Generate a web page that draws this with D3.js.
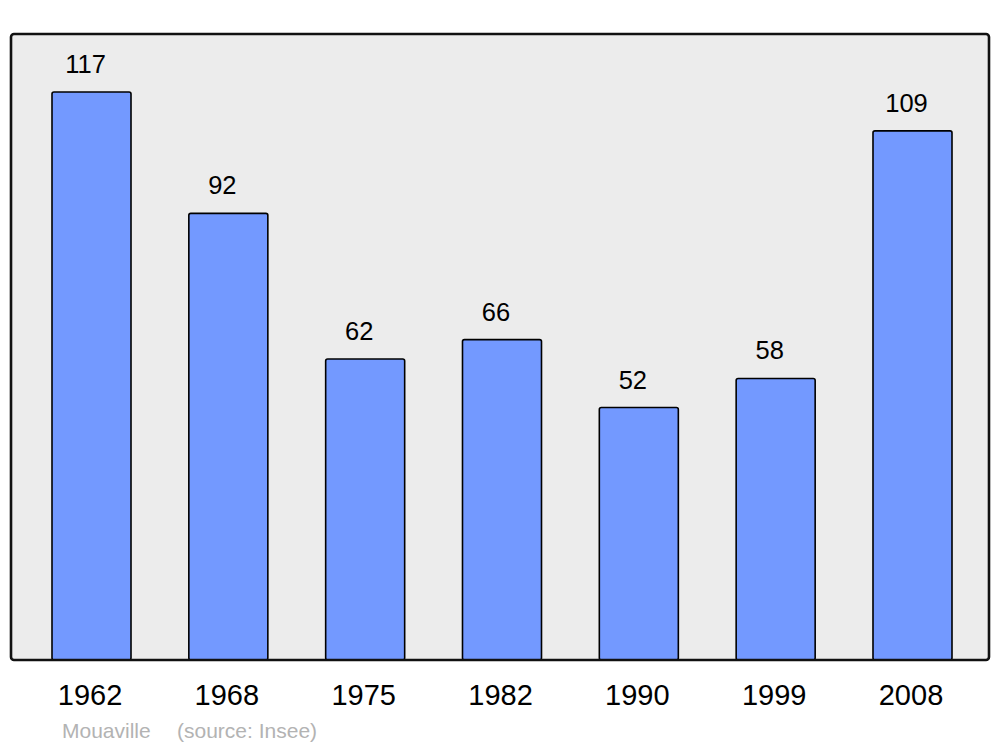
<!DOCTYPE html>
<html>
<head>
<meta charset="utf-8">
<script src="https://cdn.jsdelivr.net/npm/d3@7"></script>
<style>
  html, body { margin: 0; padding: 0; background: #ffffff; }
  svg { display: block; font-family: "Liberation Sans", Arial, sans-serif; }
</style>
</head>
<body>
<svg id="chart" width="1000" height="747"></svg>
<script>
const years = ["1962", "1968", "1975", "1982", "1990", "1999", "2008"];
const population = [117, 92, 62, 66, 52, 58, 109];
const townName = "Mouaville";
const sourceText = "(source: Insee)";

const svg = d3.select("#chart");

const x = d3.scaleBand()
  .domain(years)
  .range([52, 952])
  .paddingInner(0.4226)
  .paddingOuter(0);

const y = d3.scaleLinear()
  .domain([0, 117])
  .range([660, 92]);

// frame background
svg.append("rect")
  .attr("x", 11).attr("y", 34)
  .attr("width", 978).attr("height", 626)
  .attr("rx", 3).attr("ry", 3)
  .attr("fill", "#ececec");

const data = years.map((yr, i) => ({ year: yr, value: population[i] }));

svg.selectAll("rect.bar")
  .data(data)
  .enter().append("rect")
  .attr("class", "bar")
  .attr("x", d => x(d.year))
  .attr("y", d => y(d.value))
  .attr("width", x.bandwidth())
  .attr("height", d => y(0) - y(d.value))
  .attr("rx", 2).attr("ry", 2)
  .attr("fill", "#7399ff")
  .attr("stroke", "#000")
  .attr("stroke-width", 1.6);

// frame border
svg.append("rect")
  .attr("x", 11).attr("y", 34)
  .attr("width", 978).attr("height", 626)
  .attr("rx", 3).attr("ry", 3)
  .attr("fill", "none")
  .attr("stroke", "#111")
  .attr("stroke-width", 2.6);

// value labels
svg.selectAll("text.val")
  .data(data)
  .enter().append("text")
  .attr("class", "val")
  .attr("x", d => x(d.year) + x.bandwidth() / 2 - 6)
  .attr("y", d => y(d.value) - 19)
  .attr("text-anchor", "middle")
  .attr("font-size", 25.5)
  .attr("fill", "#000")
  .text(d => d.value);

// x axis labels
const xAxis = d3.axisBottom(x).tickSize(0).tickPadding(0);
const gx = svg.append("g")
  .attr("transform", "translate(-1.5,0)")
  .call(xAxis);
gx.select(".domain").remove();
gx.selectAll("text")
  .attr("y", 704.5)
  .attr("dy", null)
  .attr("font-size", 29)
  .attr("font-family", "\"Liberation Sans\", Arial, sans-serif")
  .attr("fill", "#000");

// footer
svg.append("text")
  .attr("x", 62).attr("y", 738)
  .attr("font-size", 21)
  .attr("fill", "#b3b3b3")
  .text(townName);
svg.append("text")
  .attr("x", 177).attr("y", 738)
  .attr("font-size", 21)
  .attr("fill", "#b3b3b3")
  .text(sourceText);
</script>
</body>
</html>
